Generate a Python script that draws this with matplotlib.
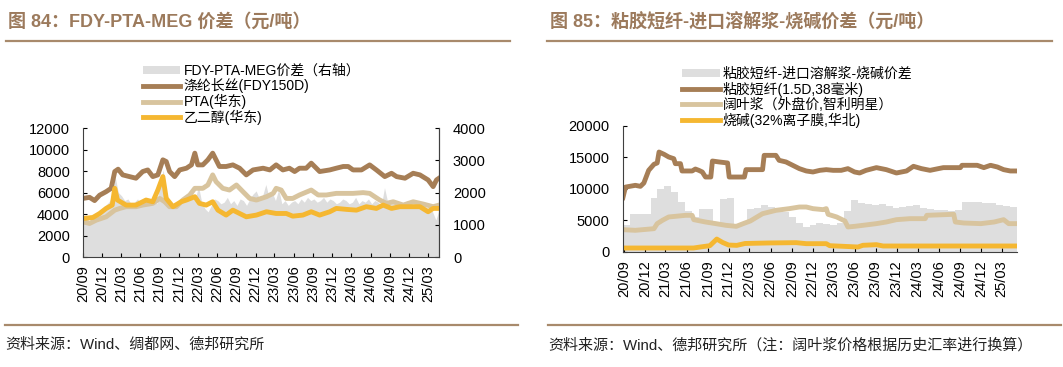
import matplotlib
matplotlib.use("Agg")
import matplotlib.pyplot as plt
import matplotlib.dates as mdates
from matplotlib.lines import Line2D
import pandas as pd

plt.rcParams['font.family'] = ['Liberation Sans', 'Noto Sans CJK SC']
plt.rcParams['axes.unicode_minus'] = False

BROWN = '#a67e56'
TAN = '#d8c49e'
ORANGE = '#f5b731'
GRAY = '#dedede'
HEAD = '#9c7a5c'

# ---------- 图84 数据 ----------
fdy_dates = ['2020-09-01', '2020-10-02', '2020-10-26', '2020-11-19', '2020-12-20', '2021-01-13',
             '2021-01-30', '2021-02-15', '2021-03-09', '2021-04-10', '2021-05-11', '2021-06-12',
             '2021-07-06', '2021-07-30', '2021-08-23', '2021-09-16', '2021-10-02', '2021-10-18',
             '2021-11-11', '2021-12-05', '2022-01-06', '2022-01-30', '2022-02-15', '2022-03-01',
             '2022-03-25', '2022-04-18', '2022-05-11', '2022-06-12', '2022-07-14', '2022-08-15',
             '2022-09-16', '2022-10-18', '2022-11-19', '2023-01-06', '2023-02-07', '2023-03-09',
             '2023-04-10', '2023-05-11', '2023-06-05', '2023-06-28', '2023-07-30', '2023-08-23',
             '2023-10-02', '2023-11-19', '2023-12-20', '2024-01-22', '2024-02-15', '2024-03-09',
             '2024-04-18', '2024-05-27', '2024-06-28', '2024-08-07', '2024-09-08', '2024-10-02',
             '2024-11-11', '2024-12-20', '2025-01-21', '2025-03-01', '2025-03-25', '2025-04-10',
             '2025-04-22']
fdy = [5450, 5550, 5250, 5750, 6080, 6390, 7950, 8170, 7640, 7480, 7330, 7950,
       8100, 7480, 7640, 9040, 8880, 7950, 7480, 8100, 8260, 8570, 9660, 8570,
       8570, 9040, 9660, 8420, 8420, 8570, 8260, 7640, 8100, 8260, 8100, 8570,
       8100, 8260, 7950, 8260, 8260, 8730, 7950, 8100, 8260, 8420, 8420, 8100,
       8100, 8570, 8100, 7480, 7790, 7480, 7330, 7790, 7640, 7170, 6550, 7170,
       7330]

pta_dates = ['2020-09-01', '2020-10-02', '2020-11-03', '2020-12-20', '2021-01-30', '2021-02-23',
             '2021-03-25', '2021-05-11', '2021-06-12', '2021-07-30', '2021-09-01', '2021-09-25',
             '2021-10-18', '2021-11-19', '2021-12-20', '2022-01-22', '2022-02-15', '2022-03-25',
             '2022-04-18', '2022-05-11', '2022-05-27', '2022-06-28', '2022-07-30', '2022-09-01',
             '2022-10-02', '2022-11-03', '2022-12-05', '2023-01-22', '2023-02-23', '2023-03-09',
             '2023-04-02', '2023-04-26', '2023-05-27', '2023-06-28', '2023-08-23', '2023-09-25',
             '2023-11-03', '2023-12-20', '2024-02-07', '2024-03-09', '2024-04-26', '2024-05-27',
             '2024-07-14', '2024-08-15', '2024-09-16', '2024-11-03', '2024-12-20', '2025-02-07',
             '2025-03-25', '2025-04-22']
pta = [3270, 3120, 3430, 3740, 4360, 4520, 4680, 4680, 4830, 4990, 5450, 5140,
       4680, 4680, 5300, 5770, 6390, 6390, 6700, 7640, 7010, 6390, 6230, 6700,
       6080, 5450, 5300, 5610, 5920, 6390, 6230, 5450, 5450, 5770, 6230, 5770,
       5770, 5920, 5920, 5920, 5990, 5920, 5300, 4990, 5140, 4830, 5140, 4920,
       4680, 4830]

meg_dates = ['2020-09-01', '2020-10-18', '2020-11-19', '2020-12-20', '2021-01-18', '2021-01-30',
             '2021-02-12', '2021-03-25', '2021-05-11', '2021-06-28', '2021-07-30', '2021-08-23',
             '2021-09-16', '2021-10-02', '2021-11-03', '2021-12-12', '2022-01-06', '2022-02-15',
             '2022-03-09', '2022-04-10', '2022-05-11', '2022-06-05', '2022-07-14', '2022-08-15',
             '2022-09-16', '2022-10-18', '2022-12-05', '2023-01-22', '2023-03-09', '2023-04-26',
             '2023-05-27', '2023-07-14', '2023-08-23', '2023-10-02', '2023-11-19', '2023-12-20',
             '2024-02-07', '2024-03-25', '2024-05-11', '2024-06-28', '2024-07-30', '2024-09-08',
             '2024-10-18', '2024-12-05', '2025-01-21', '2025-03-01', '2025-03-25', '2025-04-22']
meg = [3580, 3680, 4050, 4520, 4830, 6390, 5300, 4830, 4830, 5300, 5140, 6230,
       7480, 5450, 4680, 5140, 5300, 5610, 4990, 4830, 5140, 4360, 3900, 4360,
       4050, 3740, 3900, 4210, 4050, 4050, 3800, 3900, 4210, 3900, 4210, 4520,
       4430, 4360, 4680, 4520, 4830, 4520, 4680, 4680, 4680, 4210, 4520, 4520]

# FDY-PTA-MEG价差(右轴)，约半月一个读数
spread84 = [1150, 1250, 1100, 1300, 1250, 1400, 1500, 1600,
            1700, 1850, 2500, 2000, 1900, 1750, 1800, 1650, 1700, 1800, 1650, 1750,
            1600, 1750, 1800, 1650, 2300, 2700, 2000, 1700, 1500, 1550, 1600, 1700,
            1750, 1900, 2000, 1800, 2200, 1700, 1500, 1400, 1600, 1800, 1750, 1650,
            1700, 1850, 1650, 1750, 1600, 1800, 1750, 1600, 1800, 1950, 2050, 1800,
            1900, 2250, 1850, 2000, 1750, 2100, 1650, 1750, 1600, 1700, 1750, 1650,
            1800, 1700, 1850, 1750, 1800, 1700, 1750, 1850, 1700, 1800, 1750, 1650,
            1700, 1800, 1750, 1650, 1700, 1850, 1650, 1750, 1700, 1800, 1650, 1750,
            1700, 1600, 2150, 1700, 1650, 1750, 1700, 1600, 1650, 1750, 1700, 1650,
            1700, 1600, 1650, 1550, 1500, 1400, 1150, 1450]

# ---------- 图85 数据 ----------
vsf_dates = ['2020-08-28', '2020-09-08', '2020-10-21', '2020-11-12', '2020-11-27', '2020-12-18',
             '2021-01-10', '2021-01-24', '2021-02-01', '2021-02-23', '2021-03-15', '2021-04-06',
             '2021-04-13', '2021-05-05', '2021-05-12', '2021-06-25', '2021-07-09', '2021-07-24',
             '2021-08-08', '2021-08-22', '2021-09-14', '2021-09-21', '2021-10-20', '2021-11-26',
             '2021-12-03', '2022-02-07', '2022-02-14', '2022-04-27', '2022-05-04', '2022-06-24',
             '2022-07-08', '2022-08-07', '2022-09-05', '2022-10-04', '2022-11-03', '2022-12-02',
             '2023-01-01', '2023-01-29', '2023-02-28', '2023-04-04', '2023-05-03', '2023-06-01',
             '2023-06-23', '2023-07-21', '2023-09-04', '2023-10-17', '2023-11-30', '2024-01-13',
             '2024-02-12', '2024-03-18', '2024-04-24', '2024-05-30', '2024-06-21', '2024-09-03',
             '2024-09-10', '2024-11-15', '2024-12-14', '2025-01-12', '2025-02-11', '2025-03-10',
             '2025-04-08', '2025-05-07']
vsf = [8620, 10300, 10580, 10420, 10950, 12960, 13920, 14130, 15870, 15500, 15080, 14810,
       14020, 14020, 12860, 12860, 13170, 12960, 12700, 11900, 11900, 14440, 14290, 14130,
       11900, 11900, 13070, 13070, 15340, 15340, 14550, 14290, 13760, 13230, 12860, 12700,
       12960, 13070, 12960, 12960, 13230, 12700, 12540, 12960, 13390, 13070, 12540, 12860,
       13600, 13230, 12960, 13230, 13390, 13390, 13760, 13760, 13390, 13760, 13490, 13070,
       12860, 12860]

pulp_dates = ['2020-08-28', '2020-10-21', '2021-01-10', '2021-01-24', '2021-02-16', '2021-03-15',
              '2021-04-13', '2021-05-28', '2021-06-25', '2021-07-02', '2021-08-22', '2021-10-06',
              '2021-11-19', '2022-01-03', '2022-02-02', '2022-03-05', '2022-04-03', '2022-04-27',
              '2022-06-24', '2022-08-21', '2022-10-04', '2022-11-03', '2022-12-02', '2023-01-15',
              '2023-01-29', '2023-02-06', '2023-03-15', '2023-04-20', '2023-05-03', '2023-06-01',
              '2023-07-07', '2023-09-04', '2023-10-17', '2023-11-30', '2024-01-28', '2024-04-03',
              '2024-04-10', '2024-08-05', '2024-08-12', '2024-09-18', '2024-12-01', '2025-01-28',
              '2025-03-10', '2025-04-01', '2025-05-07']
pulp = [3540, 3440, 3700, 4500, 5030, 5560, 5660, 5820, 5820, 5130, 4760, 4500,
        4230, 4070, 4500, 4920, 5560, 6080, 6610, 6880, 7140, 7140, 6880, 6720,
        6880, 5980, 5560, 4920, 3970, 4070, 4230, 4500, 4760, 5130, 5290, 5290,
        5820, 5980, 4760, 4600, 4500, 4760, 5130, 4500, 4500]

soda_dates = ['2020-08-28', '2021-07-01', '2021-08-01', '2021-09-10', '2021-10-10', '2021-11-05',
              '2021-12-01', '2022-01-05', '2022-02-10', '2022-05-24', '2022-09-20', '2022-11-03',
              '2023-01-29', '2023-02-13', '2023-06-16', '2023-07-07', '2023-09-04', '2023-10-03',
              '2025-05-07']
soda = [630, 630, 800, 1000, 2050, 1500, 1100, 1050, 1350, 1430, 1480, 1320,
        1320, 1000, 790, 1060, 1160, 950, 950]

# 粘胶短纤-进口溶解浆-烧碱价差，月度读数
spread85 = [4300, 6000, 6100, 6000, 8500, 10000, 10500, 9500, 8000, 6500, 5500, 6900,
            6800, 4300, 8400, 8500, 4500, 4500, 6900, 7000, 7400, 7200, 6400, 6300,
            5500, 4600, 4000, 4300, 4600, 4400, 4300, 4600, 6500, 8300, 7800, 7600,
            7400, 7600, 7300, 7000, 7200, 7300, 7400, 7000, 6900, 6600, 6700, 6500,
            6600, 7900, 8000, 7900, 7800, 7700, 7500, 7300, 7200, 7100]

fig = plt.figure(figsize=(10.63, 3.67), dpi=100)


def style_axis(ax, xstart, xend):
    ax.set_xlim(pd.Timestamp(xstart), pd.Timestamp(xend))
    ax.xaxis.set_major_locator(mdates.MonthLocator(bymonth=[3, 6, 9, 12]))
    ax.xaxis.set_major_formatter(mdates.DateFormatter('%y/%m'))
    ax.tick_params(axis='x', direction='in', length=3, labelsize=10.5, pad=6, rotation=90)
    ax.tick_params(axis='y', direction='in', length=3, labelsize=10.5, pad=9.5)
    for s in ax.spines.values():
        s.set_linewidth(0.8)
        s.set_color('#404040')
    ax.spines['top'].set_visible(False)


# ---------- 左图 ----------
ax1 = fig.add_axes([0.0781, 0.2997, 0.3349, 0.3515])
ax1r = ax1.twinx()
d84 = pd.date_range('2020-09-01', '2025-04-22', periods=len(spread84))
g1 = ax1r.fill_between(d84, spread84, 0, color=GRAY, lw=0, label='FDY-PTA-MEG价差（右轴）')
l1, = ax1.plot(pd.to_datetime(fdy_dates), fdy, color=BROWN, lw=3.5, label='涤纶长丝(FDY150D)')
l2, = ax1.plot(pd.to_datetime(pta_dates), pta, color=TAN, lw=3.5, label='PTA(华东)')
l3, = ax1.plot(pd.to_datetime(meg_dates), meg, color=ORANGE, lw=3.5, label='乙二醇(华东)')
ax1.set_zorder(ax1r.get_zorder() + 1)
ax1.patch.set_visible(False)
ax1.set_ylim(0, 12000)
ax1.set_yticks(range(0, 12001, 2000))
ax1r.set_ylim(0, 4000)
ax1r.set_yticks(range(0, 4001, 1000))
style_axis(ax1, '2020-09-01', '2025-04-22')
style_axis(ax1r, '2020-09-01', '2025-04-22')
ax1r.spines['left'].set_visible(False)
ax1r.spines['bottom'].set_visible(False)
ax1r.tick_params(axis='y', pad=10)

fig.legend([g1, l1, l2, l3], [h.get_label() for h in [g1, l1, l2, l3]],
           loc='upper left', bbox_to_anchor=(0.1345, 0.826), frameon=False,
           fontsize=10, handlelength=2.7, handletextpad=0.22, labelspacing=0.03,
           borderpad=0, borderaxespad=0, handleheight=0.45)

# ---------- 右图 ----------
ax2 = fig.add_axes([0.586, 0.3134, 0.3707, 0.3433])
d85 = pd.date_range('2020-08-28', '2025-05-07', periods=len(spread85))
g2 = ax2.fill_between(d85, spread85, 0, color=GRAY, lw=0, step='post',
                      label='粘胶短纤-进口溶解浆-烧碱价差')
m1, = ax2.plot(pd.to_datetime(vsf_dates), vsf, color=BROWN, lw=3.5, label='粘胶短纤(1.5D,38毫米)')
m2, = ax2.plot(pd.to_datetime(pulp_dates), pulp, color=TAN, lw=3.5, label='阔叶浆（外盘价,智利明星）')
m3, = ax2.plot(pd.to_datetime(soda_dates), soda, color=ORANGE, lw=3.5, label='烧碱(32%离子膜,华北)')
ax2.set_ylim(0, 20000)
ax2.set_yticks(range(0, 20001, 5000))
style_axis(ax2, '2020-08-28', '2025-05-07')
ax2.spines['right'].set_visible(False)

fig.legend([g2, m1, m2, m3], [h.get_label() for h in [g2, m1, m2, m3]],
           loc='upper left', bbox_to_anchor=(0.6416, 0.818), frameon=False,
           fontsize=10, handlelength=2.7, handletextpad=0.22, labelspacing=0.06,
           borderpad=0, borderaxespad=0, handleheight=0.45)

# ---------- 标题、分隔线、来源 ----------
fig.text(8 / 1063, 1 - 22 / 367, '图 84：FDY-PTA-MEG 价差（元/吨）', fontsize=13,
         fontweight='bold', color=HEAD, va='center', ha='left')
fig.text(550 / 1063, 1 - 22 / 367, '图 85：粘胶短纤-进口溶解浆-烧碱价差（元/吨）', fontsize=13,
         fontweight='bold', color=HEAD, va='center', ha='left')

for x0, x1, y in [(6, 510, 41), (547, 1052, 41), (5, 518, 325), (548, 1061, 325)]:
    fig.add_artist(Line2D([x0 / 1063, x1 / 1063], [1 - y / 367, 1 - y / 367],
                          transform=fig.transFigure, color='#a88a6c', lw=1.6))

fig.text(5 / 1063, 1 - 345 / 367, '资料来源：Wind、绸都网、德邦研究所', fontsize=10.8,
         color='#222222', va='center', ha='left')
fig.text(548 / 1063, 1 - 345 / 367, '资料来源：Wind、德邦研究所（注：阔叶浆价格根据历史汇率进行换算）',
         fontsize=10.8, color='#222222', va='center', ha='left')

fig.savefig('out.png', dpi=100)
